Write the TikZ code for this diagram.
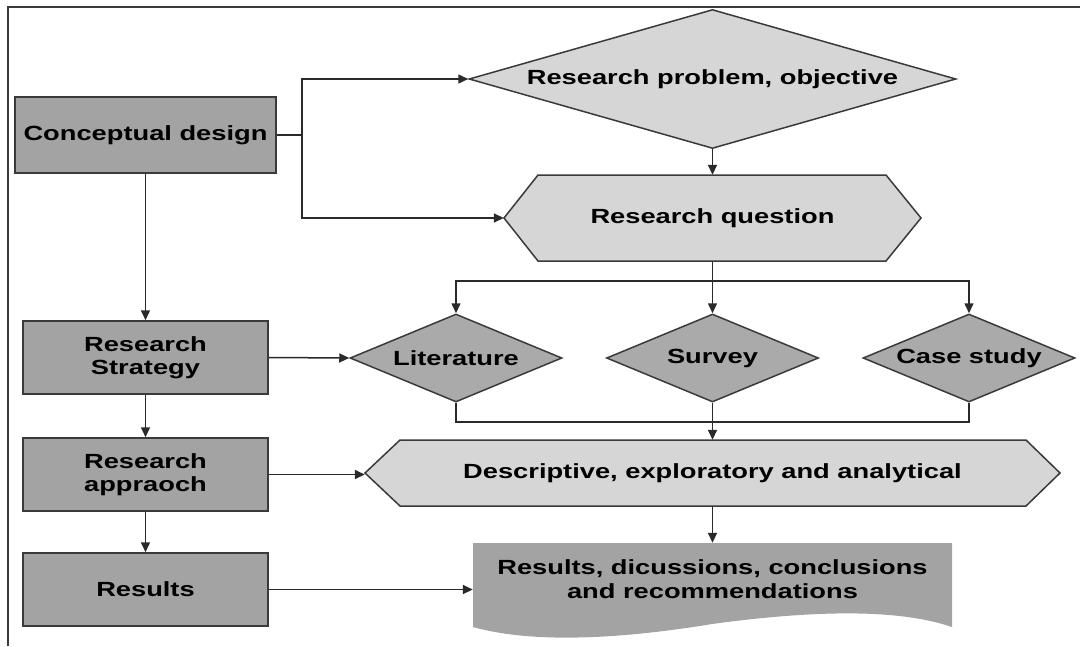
\documentclass[tikz,border=0pt]{standalone}
\usepackage{fontspec}
\setmainfont{Liberation Sans}[FakeStretch=1.33]
\usetikzlibrary{shapes.geometric,arrows.meta}
\definecolor{darkbox}{HTML}{A3A3A3}
\definecolor{midbox}{HTML}{AAAAAA}
\definecolor{lightbox}{HTML}{D6D6D6}
\definecolor{edge}{HTML}{3A3A3A}
\definecolor{wire}{HTML}{2A2A2A}
\begin{document}
\begin{tikzpicture}[x=1pt,y=-1pt,
  every node/.style={font=\fontsize{20.5}{23.5}\selectfont\bfseries, align=center, text=black, inner sep=0pt},
  box/.style={draw=edge, line width=1.5pt, fill=darkbox, minimum width=245pt, minimum height=73pt},
  dia/.style={diamond, draw=edge, line width=1.5pt, fill=midbox, aspect=2.4, minimum width=212pt, minimum height=88pt},
  shapeline/.style={draw=edge, line width=1.5pt},
  conn/.style={draw=wire, line width=1.5pt},
  arr/.style={conn, -{Triangle[length=10pt,width=9pt]}}]

\useasboundingbox (0,0) rectangle (1080,646);

% frame
\draw[draw=edge, line width=1.6pt] (8,646) -- (8,7) -- (1080,7);

% left column
\node[box, minimum width=261pt, minimum height=76pt] (cd) at (145.5,135) {Conceptual design};
\node[box] (rs) at (145.5,357.5) {Research\\Strategy};
\node[box] (ra) at (145.5,474.5) {Research\\appraoch};
\node[box] (rr) at (145.5,589.5) {Results};

% research problem
\node[dia, fill=lightbox, aspect=3.5, minimum width=487pt, minimum height=139pt] (rp) at (712.5,79) {Research problem, objective};

% research question hexagon
\path[shapeline, fill=lightbox] (504,218) -- (538,175) -- (886,175) -- (921,218) -- (886,261) -- (538,261) -- cycle;
\node[minimum width=417pt, minimum height=86pt] (rq) at (712.5,218) {Research question};

% strategies
\node[dia] (lit) at (456,358) {Literature};
\node[dia] (sv) at (712.5,358) {Survey};
\node[dia] (cs) at (969,358) {Case study};

% descriptive hexagon
\path[shapeline, fill=lightbox] (365,473) -- (400,440) -- (1026,440) -- (1060,473) -- (1026,506) -- (400,506) -- cycle;
\node[minimum width=695pt, minimum height=66pt] (da) at (712.5,473) {Descriptive, exploratory and analytical};

% results document
\path[fill=darkbox] (473,543) -- (952,543) -- (952,627)
  .. controls (905,611) and (830,608) .. (712,624)
  .. controls (615,640) and (530,643) .. (473,627) -- cycle;
\node[minimum width=479pt, minimum height=72pt] (res) at (712.5,579) {Results, dicussions, conclusions\\and recommendations};

% connectors
\coordinate (split) at (302,135);
\draw[conn] (cd.east) -- (split);
\draw[arr] (split) |- (rp.west);
\draw[arr] (split) |- (rq.west);
\draw[arr] (rp.south) -- (rq.north);

\coordinate (fan) at (712.5,281);
\draw[arr] (rq.south) -- (sv.north);
\draw[arr] (fan) -| (lit.north);
\draw[arr] (fan) -| (cs.north);

\coordinate (merge) at (712.5,422);
\draw[conn] (lit.south) |- (merge);
\draw[conn] (cs.south) |- (merge);
\draw[arr] (sv.south) -- (da.north);
\draw[arr] (da.south) -- (res.north);

\draw[arr] (cd.south) -- (rs.north);
\draw[arr] (rs.south) -- (ra.north);
\draw[arr] (ra.south) -- (rr.north);

\draw[arr] (rs.east) -- (lit.west);
\draw[arr] (ra.east) -- (ra.east -| da.west);
\draw[arr] (rr.east) -- (rr.east -| res.west);
\end{tikzpicture}
\end{document}
